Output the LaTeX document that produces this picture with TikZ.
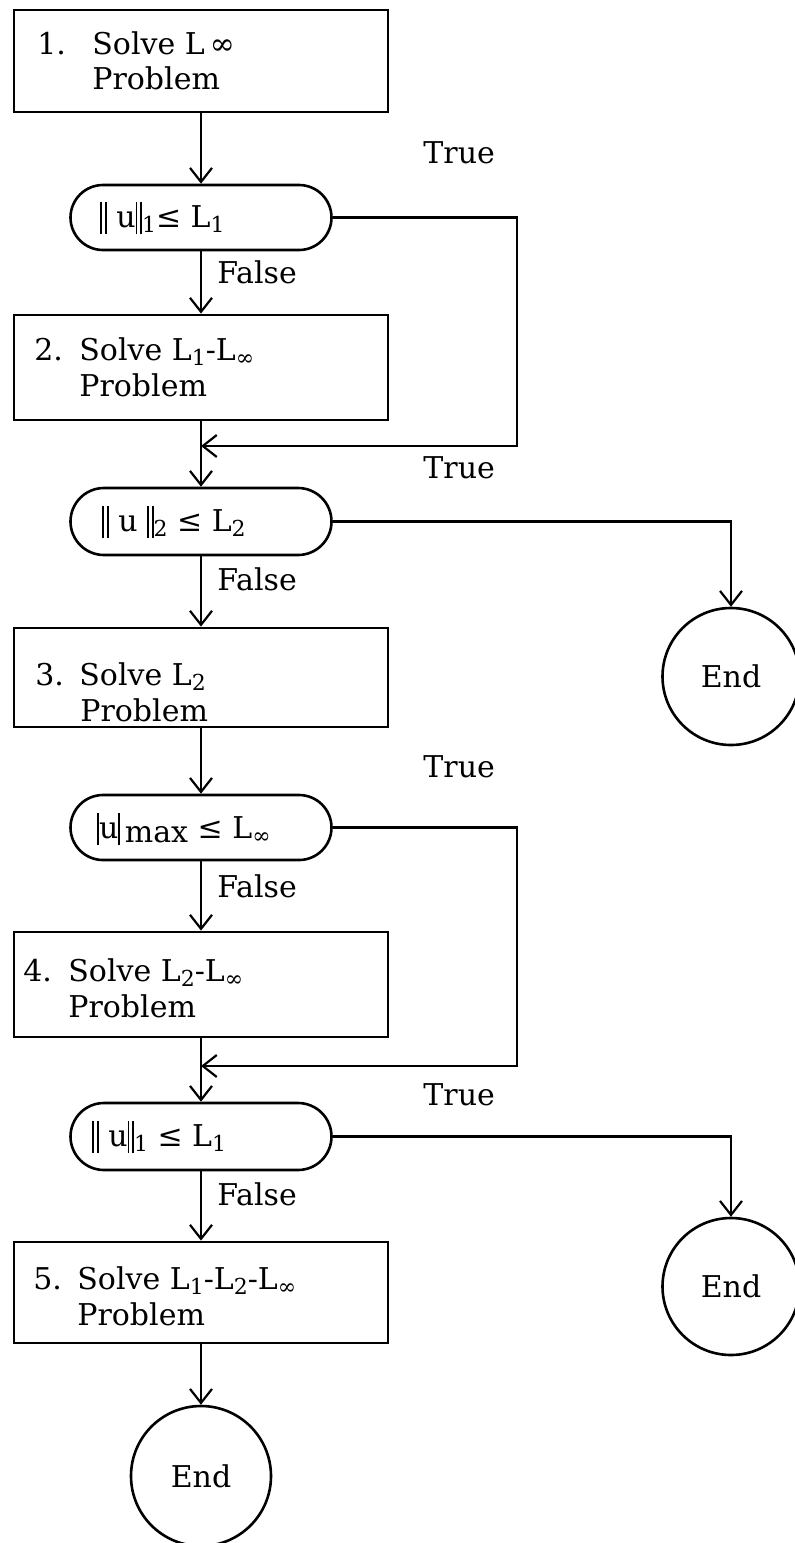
\documentclass[tikz,border=0pt]{standalone}
\usepackage{fontspec}
\setmainfont{DejaVu Serif}
\usetikzlibrary{arrows.meta,shapes.misc}
\newcommand\subx[1]{\raisebox{-0.35ex}{\fontsize{11}{11}\selectfont #1}}
\newcommand\dbar{\rule[-0.45ex]{0.8pt}{2.05ex}\kern1.6pt\rule[-0.45ex]{0.8pt}{2.05ex}}
\newcommand\sbar{\rule[-0.45ex]{0.8pt}{2.05ex}}
\begin{document}
\begin{tikzpicture}[x=0.5pt,y=-0.5pt,
  txt/.style={inner sep=0pt, font=\fontsize{15}{17}\selectfont, anchor=base west},
  procbox/.style={draw, line width=1.4pt, minimum width=187pt, inner sep=0pt},
  decbox/.style={draw, rounded rectangle, line width=1.3pt, minimum width=130.5pt, inner sep=0pt},
  endnode/.style={draw, circle, line width=1.3pt, inner sep=0pt, font=\fontsize{15}{17}\selectfont},
  flow/.style={line width=1.1pt, -{Straight Barb[length=7pt,width=11pt]}},
]
\useasboundingbox (0,0) rectangle (795,1543);

% process boxes
\node[procbox, minimum height=51pt]   (b1) at (201,61) {};
\node[procbox, minimum height=52.5pt] (b2) at (201,367.5) {};
\node[procbox, minimum height=49.5pt] (b3) at (201,677.5) {};
\node[procbox, minimum height=52.5pt] (b4) at (201,984.5) {};
\node[procbox, minimum height=50.5pt] (b5) at (201,1292.5) {};

% decisions
\node[decbox, minimum height=32.5pt] (d1) at (201,217.5) {};
\node[decbox, minimum height=33.5pt] (d2) at (201,521.5) {};
\node[decbox, minimum height=32.5pt] (d3) at (201,827.5) {};
\node[decbox, minimum height=33.5pt] (d4) at (201,1136.5) {};

% end circles
\node[endnode, minimum size=68.5pt] (e1) at (731,676.5) {End};
\node[endnode, minimum size=68.5pt] (e2) at (731,1286.5) {End};
\node[endnode, minimum size=70pt]   (e3) at (201,1476) {End};

% box texts
\node[txt] (b1n) at (37,54) {1.};
\node[txt] (b1t) at (92,54) {Solve L\,∞};
\node[txt] (b1p) at (92,89) {Problem};
\node[txt] (b2n) at (34,360) {2.};
\node[txt] (b2t) at (79,360) {Solve L\subx{1}-L\subx{∞}};
\node[txt] (b2p) at (79,396) {Problem};
\node[txt] (b3n) at (35,685) {3.};
\node[txt] (b3t) at (79,685) {Solve L\subx{2}};
\node[txt] (b3p) at (80,721) {Problem};
\node[txt] (b4n) at (23,981) {4.};
\node[txt] (b4t) at (68,981) {Solve L\subx{2}-L\subx{∞}};
\node[txt] (b4p) at (68,1017) {Problem};
\node[txt] (b5n) at (33,1289) {5.};
\node[txt] (b5t) at (77,1289) {Solve L\subx{1}-L\subx{2}-L\subx{∞}};
\node[txt] (b5p) at (77,1325) {Problem};

% decision texts
\node[txt] (d1t) at (100,227) {\dbar\ u\dbar\subx{1}≤ L\subx{1}};
\node[txt] (d2t) at (102,531) {\dbar\ u \dbar\subx{2} ≤ L\subx{2}};
\node[txt] (d3t) at (97,838) {\sbar u\sbar\,\raisebox{-0.3ex}{max} ≤ L\subx{∞}};
\node[txt] (d4t) at (92,1146) {\dbar\ u\dbar\subx{1} ≤ L\subx{1}};

% labels
\node[txt] (t1) at (423,163) {True};
\node[txt] (t2) at (423,478) {True};
\node[txt] (t3) at (423,777) {True};
\node[txt] (t4) at (423,1105) {True};
\node[txt] (f1) at (217,283) {False};
\node[txt] (f2) at (217,590) {False};
\node[txt] (f3) at (217,897) {False};
\node[txt] (f4) at (217,1205) {False};

% loop coordinates
\coordinate (k1) at (517,446);
\coordinate (j1) at (201,446);
\coordinate (k2) at (517,1066);
\coordinate (j2) at (201,1066);

% connectors
\draw[flow] (b1.south) -- (d1.north);
\draw[flow] (d1.south) -- (b2.north);
\draw[flow] (b2.south) -- (d2.north);
\draw[flow] (d1.east) -| (k1) -- (j1);
\draw[flow] (d2.south) -- (b3.north);
\draw[flow] (d2.east) -| (e1.north);
\draw[flow] (b3.south) -- (d3.north);
\draw[flow] (d3.south) -- (b4.north);
\draw[flow] (b4.south) -- (d4.north);
\draw[flow] (d3.east) -| (k2) -- (j2);
\draw[flow] (d4.south) -- (b5.north);
\draw[flow] (d4.east) -| (e2.north);
\draw[flow] (b5.south) -- (e3.north);
\end{tikzpicture}
\end{document}
